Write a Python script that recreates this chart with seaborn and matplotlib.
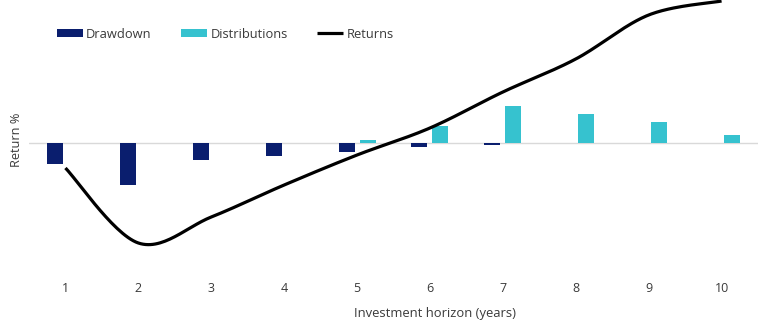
import numpy as np
import pandas as pd
import matplotlib
matplotlib.use("Agg")
import matplotlib.pyplot as plt
import seaborn as sns

years = ["1", "2", "3", "4", "5", "6", "7", "8", "9", "10"]
drawdown = [-20.5, -41.5, -16.5, -12.5, -8.5, -4.0, -1.5, 0.0, 0.0, 0.0]
distributions = [0.0, 0.0, 0.0, 0.0, 3.5, 17.0, 37.5, 29.0, 21.0, 8.5]
returns = [-25, -100, -74, -42, -12, 15, 51, 84, 128, 142]

NAVY = "#0a1e6e"
CYAN = "#36c2cf"
TEXT = "#3a3a3a"

sns.set_theme(style="white")
plt.rcParams["font.family"] = ["Open Sans", "DejaVu Sans"]

df = pd.DataFrame({
    "year": years * 2,
    "value": drawdown + distributions,
    "series": ["Drawdown"] * len(years) + ["Distributions"] * len(years),
})

fig = plt.figure(figsize=(7.75, 3.33), dpi=100)
ax = fig.add_axes([29 / 775, 60 / 333, 729 / 775, 273 / 333])

sns.barplot(data=df, x="year", y="value", hue="series",
            hue_order=["Drawdown", "Distributions"],
            palette=[NAVY, CYAN], width=0.576, gap=0.236,
            saturation=1, linewidth=0, ax=ax, order=years)


def smooth(xv, yv, n=30):
    # Bezier smoothing between the data points (Excel-style smoothed line)
    xv = np.asarray(xv, float)
    yv = np.asarray(yv, float)
    P = np.column_stack([xv, yv])
    Pe = np.vstack([P[0], P, P[-1]])
    out = []
    for i in range(len(P) - 1):
        p0, p1, p2, p3 = Pe[i], Pe[i + 1], Pe[i + 2], Pe[i + 3]
        c1 = p1 + (p2 - p0) / 6
        c2 = p2 - (p3 - p1) / 6
        t = np.linspace(0, 1, n, endpoint=(i == len(P) - 2))[:, None]
        seg = ((1 - t) ** 3) * p1 + 3 * ((1 - t) ** 2) * t * c1 + 3 * (1 - t) * t ** 2 * c2 + t ** 3 * p2
        out.append(seg)
    out = np.vstack(out)
    return out[:, 0], out[:, 1]


sx, sy = smooth(np.arange(len(years)), returns)
sns.lineplot(x=sx, y=sy, sort=False, estimator=None, color="black",
             linewidth=2.3, ax=ax, label="Returns")
for l in ax.lines:
    l.set_clip_on(False)
    l.set_solid_capstyle("butt")

ax.axhline(0, color="#d9d9d9", linewidth=1, zorder=0)

ax.set_xlim(-0.5, len(years) - 0.5)
ax.set_ylim(-130, 143)
ax.set_yticks([])
ax.tick_params(axis="x", length=0, pad=6.5, labelsize=9, labelcolor=TEXT)
for s in ax.spines.values():
    s.set_visible(False)

ax.set_xlabel("Investment horizon (years)", fontsize=9.4, color=TEXT)
ax.xaxis.set_label_coords((435 - 29) / 729, -0.15)
ax.xaxis.label.set_va("center")
ax.set_ylabel("Return %", fontsize=9.2, color=TEXT)
ax.yaxis.set_label_coords(-0.008, 0.487)

handles, labels = ax.get_legend_handles_labels()
order = [labels.index("Drawdown"), labels.index("Distributions"), labels.index("Returns")]
ax.legend([handles[i] for i in order], [labels[i] for i in order],
          ncol=3, loc="center left", bbox_to_anchor=(57 / 775, 1 - 34 / 333),
          bbox_transform=fig.transFigure, frameon=False, fontsize=9.3,
          handlelength=2.0, handleheight=0.55, handletextpad=0.25,
          columnspacing=2.3, borderpad=0, borderaxespad=0, labelcolor=TEXT)

fig.savefig("out.png", dpi=100)
